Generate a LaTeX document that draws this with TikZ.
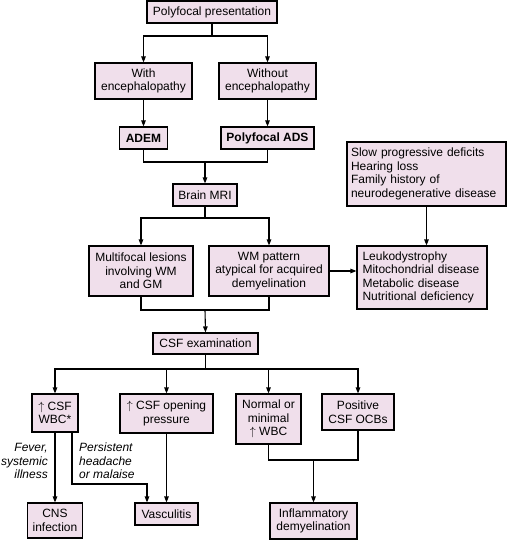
\documentclass[tikz,border=0pt]{standalone}
\usepackage{fontspec}
\setmainfont{Liberation Sans}
\usepackage{tikz}
\usetikzlibrary{arrows.meta}
\usepackage{xcolor}
\definecolor{boxpink}{RGB}{240,223,235}
\newcommand{\up}{$\uparrow$}

\tikzset{
  box/.style={draw=black,fill=boxpink,line width=1.1pt,inner sep=0pt,align=center,
    font=\fontsize{12}{13.5}\selectfont},
  leftbox/.style={box,align=left},
  cue/.style={font=\fontsize{12}{13.5}\selectfont\itshape,inner sep=0pt},
  link/.style={line width=1.1pt}
}

\begin{document}
\begin{tikzpicture}[x=1pt,y=-1pt,>={Triangle[length=6pt,width=4.5pt]},line cap=butt]
\useasboundingbox (0,0) rectangle (507,540);
% top part
\node[box,minimum width=130,minimum height=22] (pres) at (212,12) {Polyfocal presentation};
\node[box,minimum width=97,minimum height=36] (withenc) at (143.5,81) {With\\encephalopathy};
\node[box,minimum width=97,minimum height=36] (woenc) at (267.5,81) {Without\\encephalopathy};
\node[box,minimum width=48,minimum height=22,font=\fontsize{12}{13.5}\selectfont\bfseries] (adem) at (143.5,138) {ADEM};
\node[box,minimum width=93,minimum height=22,font=\fontsize{12}{13.5}\selectfont\bfseries] (pads) at (267.5,138) {Polyfocal ADS};
\node[box,minimum width=64,minimum height=22] (mri) at (205,195) {Brain MRI};
\node[box,minimum width=104,minimum height=50] (multi) at (141,271) {Multifocal lesions\\involving WM\\and GM};
\node[box,minimum width=120,minimum height=50] (wmpat) at (269,271) {WM pattern\\atypical for acquired\\demyelination};
\node[leftbox,minimum width=159,minimum height=64,text width=151] (slow) at (426.5,174)
  {Slow progressive deficits\\Hearing loss\\Family history of\\neurodegenerative disease};
\node[leftbox,minimum width=130,minimum height=63,text width=119] (leuko) at (422,277.5)
  {Leukodystrophy\\Mitochondrial disease\\Metabolic disease\\Nutritional deficiency};
% CSF part
\node[box,minimum width=105,minimum height=21] (csf) at (205.5,343.5) {CSF examination};
\node[box,minimum width=46,minimum height=38] (wbc) at (55,413) {\up\ CSF\\WBC*};
\node[box,minimum width=93,minimum height=39] (press) at (166.5,413.5) {\up\ CSF opening\\pressure};
\node[box,minimum width=65,minimum height=50] (normal) at (268.5,419) {Normal or\\minimal\\\up\ WBC};
\node[box,minimum width=72,minimum height=36] (ocb) at (358,412) {Positive\\CSF OCBs};
\node[box,minimum width=55,minimum height=35] (cns) at (55,520.5) {CNS\\infection};
\node[box,minimum width=63,minimum height=22] (vasc) at (166.5,514) {Vasculitis};
\node[box,minimum width=87,minimum height=36] (inflam) at (313.5,521) {Inflammatory\\demyelination};
\node[cue,anchor=east,align=right] (fever) at (48,461) {Fever,\\systemic\\illness};
\node[cue,anchor=west,align=left] (headache) at (79,461) {Persistent\\headache\\or malaise};

% connectors
\coordinate (b1) at (212,36);
\draw[link] (pres.south) -- (b1);
\draw[link,->] (b1) -| (withenc.north);
\draw[link,->] (b1) -| (woenc.north);
\draw[link,->] (withenc.south) -- (adem.north);
\draw[link,->] (woenc.south) -- (pads.north);
\coordinate (j1) at (205,162);
\draw[link] (adem.south) |- (j1);
\draw[link] (pads.south) |- (j1);
\draw[link,->] (j1) -- (mri.north);
\coordinate (b2) at (205,218);
\draw[link] (mri.south) -- (b2);
\draw[link,->] (b2) -| (multi.north);
\draw[link,->] (b2) -| (wmpat.north);
\draw[link,->] (wmpat.east) -- (wmpat.east -| leuko.west);
\draw[link,->] (slow.south) -- (slow.south |- leuko.north);
\coordinate (j2) at (205,310);
\draw[link] (multi.south) |- (j2);
\draw[link] (wmpat.south) |- (j2);
\draw[link,->] (j2) -- (csf.north);
\coordinate (b3) at (205.5,369);
\draw[link] (csf.south) -- (b3);
\draw[link,->] (b3) -| (wbc.north);
\draw[link,->] (b3) -| (press.north);
\draw[link,->] (b3) -| (normal.north);
\draw[link,->] (b3) -| (ocb.north);
\draw[link,->] (wbc.south) -- (cns.north);
\coordinate (bend) at (72,484);
\draw[link,->] (bend |- wbc.south) -- (bend) -| ([xshift=-19.5pt]vasc.north);
\draw[link,->] (press.south) -- (vasc.north);
\coordinate (j3) at (313.5,460);
\draw[link] (normal.south) |- (j3);
\draw[link] (ocb.south) |- (j3);
\draw[link,->] (j3) -- (inflam.north);
\end{tikzpicture}
\end{document}
